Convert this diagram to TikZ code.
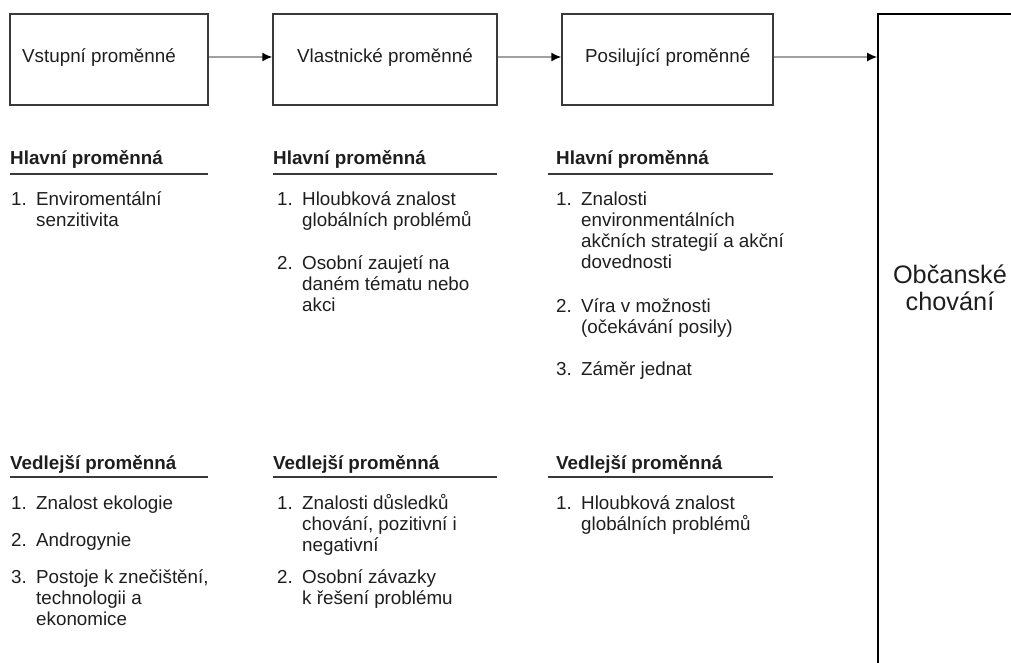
\documentclass[tikz,border=0pt]{standalone}
\usepackage{fontspec}
\setmainfont{Liberation Sans}
\usetikzlibrary{arrows.meta}
\definecolor{ink}{HTML}{1E1E1E}
\definecolor{frame}{HTML}{3A3A3A}
\definecolor{flow}{HTML}{A0A0A0}
\newcommand\numbered[3]{\makebox[25pt][l]{#1}\parbox[t]{#2}{#3}}
\begin{document}
\begin{tikzpicture}[x=1pt,y=-1pt,
  stagebox/.style={draw=frame, line width=1.4pt, rectangle, inner sep=0pt, minimum height=91pt},
  bodytext/.style={anchor=base west, inner sep=0pt, text=ink, font=\fontsize{18.8}{21}\selectfont},
  headtext/.style={bodytext, font=\fontsize{18.8}{21}\selectfont\bfseries},
  headrule/.style={draw=frame, line width=1.2pt},
  flowarrow/.style={draw=flow, line width=1.6pt, -{Latex[length=10pt,width=9pt,color=black]}},
]
\clip (0,0) rectangle (1011,662);

% stage boxes
\node[stagebox, minimum width=198pt] (b1) at (109,59.5) {};
\node[stagebox, minimum width=224pt] (b2) at (385,59.5) {};
\node[stagebox, minimum width=211pt] (b3) at (667.5,59.5) {};
\node[draw=black, line width=1.6pt, rectangle, inner sep=0pt,
      minimum width=200pt, minimum height=700pt] (civ) at (978,364) {};

\node[bodytext] (t1) at (22,62) {Vstupní proměnné};
\node[bodytext] (t2) at (297,62) {Vlastnické proměnné};
\node[bodytext] (t3) at (585,62) {Posilující proměnné};
\node[align=center, text=ink, font=\fontsize{25.3}{27.5}\selectfont] (civtext) at (950,288) {Občanské\\chování};

% flow between stages
\path ([yshift=2.5pt]b1.east) coordinate (o1)
      ([yshift=2.5pt]b2.east) coordinate (o2)
      ([yshift=2.5pt]b3.east) coordinate (o3);
\draw[flowarrow] (o1) -- (o1 -| b2.west);
\draw[flowarrow] (o2) -- (o2 -| b3.west);
\draw[flowarrow] (o3) -- (o3 -| civ.west);

% main variables
\node[headtext] (h1) at (10,164) {Hlavní proměnná};
\node[headtext] (h2) at (273,164) {Hlavní proměnná};
\node[headtext] (h3) at (556,164) {Hlavní proměnná};
\draw[headrule] (10,174) -- (208,174);
\draw[headrule] (273,174) -- (497,174);
\draw[headrule] (548,174) -- (773,174);

\node[bodytext] (h1a) at (11,205) {\numbered{1.}{200pt}{Enviromentální\\senzitivita}};
\node[bodytext] (h2a) at (277,205) {\numbered{1.}{200pt}{Hloubková znalost\\globálních problémů}};
\node[bodytext] (h2b) at (277,269) {\numbered{2.}{200pt}{Osobní zaujetí na\\daném tématu nebo\\akci}};
\node[bodytext] (h3a) at (556,205) {\numbered{1.}{250pt}{Znalosti\\environmentálních\\akčních strategií a akční\\dovednosti}};
\node[bodytext] (h3b) at (556,312) {\numbered{2.}{200pt}{Víra v možnosti\\(očekávání posily)}};
\node[bodytext] (h3c) at (556,375) {\numbered{3.}{200pt}{Záměr jednat}};

% secondary variables
\node[headtext] (v1) at (10,469) {Vedlejší proměnná};
\node[headtext] (v2) at (273,469) {Vedlejší proměnná};
\node[headtext] (v3) at (556,469) {Vedlejší proměnná};
\draw[headrule] (10,477) -- (208,477);
\draw[headrule] (273,477) -- (497,477);
\draw[headrule] (548,477) -- (773,477);

\node[bodytext] (v1a) at (11,509) {\numbered{1.}{200pt}{Znalost ekologie}};
\node[bodytext] (v1b) at (11,546) {\numbered{2.}{200pt}{Androgynie}};
\node[bodytext] (v1c) at (11,583) {\numbered{3.}{200pt}{Postoje k znečištění,\\technologii a\\ekonomice}};
\node[bodytext] (v2a) at (277,509) {\numbered{1.}{200pt}{Znalosti důsledků\\chování, pozitivní i\\negativní}};
\node[bodytext] (v2b) at (277,583) {\numbered{2.}{200pt}{Osobní závazky\\k řešení problému}};
\node[bodytext] (v3a) at (556,509) {\numbered{1.}{200pt}{Hloubková znalost\\globálních problémů}};
\end{tikzpicture}
\end{document}
